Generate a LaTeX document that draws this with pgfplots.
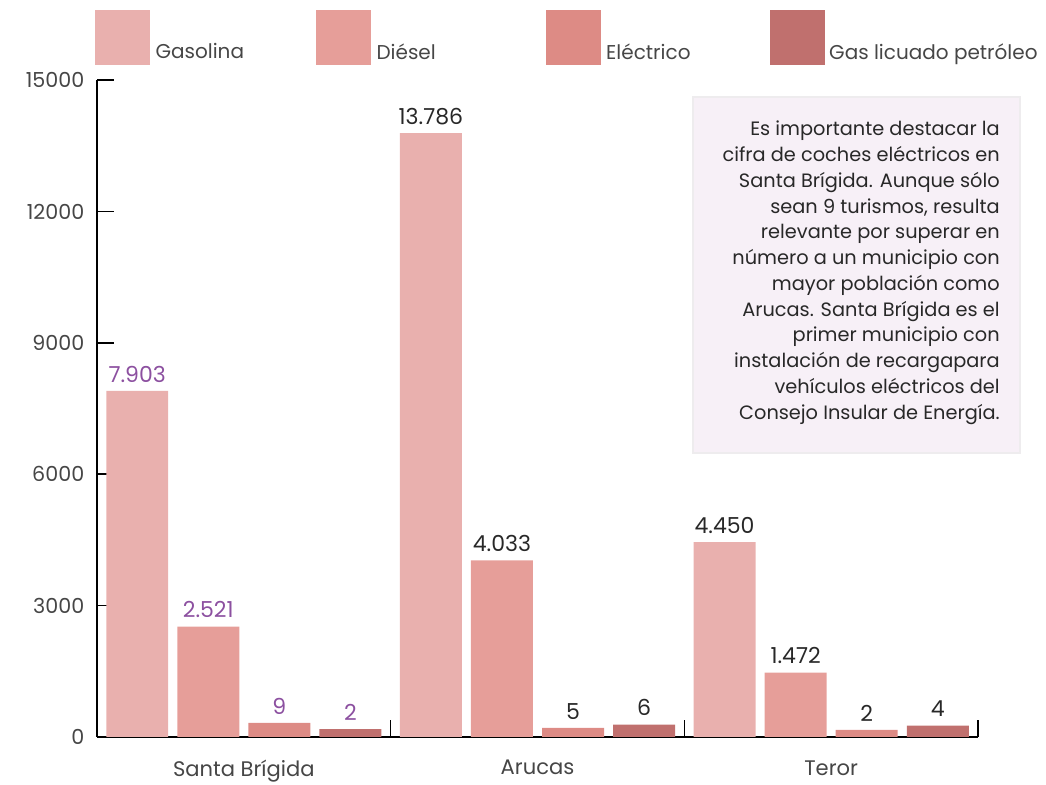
\documentclass[border=0pt]{standalone}
\usepackage{fontspec}
\setmainfont{Poppins}
\usepackage{pgfplots}
\pgfplotsset{compat=1.18}
\definecolor{cGas}{RGB}{233,176,174}
\definecolor{cDie}{RGB}{230,158,153}
\definecolor{cEle}{RGB}{221,139,133}
\definecolor{cGLP}{RGB}{192,112,110}
\definecolor{sbp}{RGB}{140,80,160}
\definecolor{boxbg}{RGB}{247,240,247}
\definecolor{txt}{RGB}{40,40,40}
\definecolor{tick}{RGB}{70,70,70}
\begin{document}
\begin{tikzpicture}[x=0.75pt,y=0.75pt]
\useasboundingbox (0,0) rectangle (1046,785);
\fill[boxbg, draw={rgb,255:red,238;green,236;blue,238}, line width=1.5pt] (693,332) rectangle (1020,688);
\node[anchor=north east, align=right, inner sep=0pt, text=txt,
      font=\fontsize{14.5}{19.3}\selectfont] at (1000,664) {%
Es importante destacar la\\
cifra de coches eléctricos en\\
Santa Brígida. Aunque sólo\\
sean 9 turismos, resulta\\
relevante por superar en\\
número a un municipio con\\
mayor población como\\
Arucas. Santa Brígida es el\\
primer municipio con\\
instalación de recargapara\\
vehículos eléctricos del\\
Consejo Insular de Energía.};
\begin{axis}[
  at={(72.75pt,36pt)}, anchor=south west,
  scale only axis, width=660.75pt, height=492.75pt,
  xmin=-0.5, xmax=2.5, ymin=0, ymax=15000,
  axis lines=left,
  axis line style={-, line width=1.4pt, black},
  ybar, bar width=0.211,
  ytick={0,3000,6000,9000,12000,15000},
  scaled y ticks=false,
  yticklabel style={/pgf/number format/fixed, /pgf/number format/1000 sep={},
    /pgf/number format/assume math mode=true,
    font=\fontsize{15.5}{18}\selectfont, text=tick, xshift=-6pt},
  tick align=inside,
  major tick length=13pt,
  ytick style={line width=1.2pt, black},
  xtick={0.5,1.5,2.5},
  xticklabels={,,},
  xtick style={line width=1.2pt, black},
  extra x ticks={0,1,2},
  extra x tick labels={Santa Brígida,Arucas,Teror},
  extra x tick style={major tick length=0pt,
    xticklabel style={font=\fontsize{15.8}{18}\selectfont, text=tick, yshift=-14pt}},
  nodes near coords,
  point meta=explicit symbolic,
  nodes near coords style={font=\fontsize{16.5}{19}\selectfont, text=txt, anchor=south, yshift=3pt},
  legend columns=4,
  legend style={at={(-0.0023,1.1065)}, anchor=north west, draw=none, fill=none,
    inner sep=0pt, nodes={inner sep=0pt},
    font=\fontsize{15}{18}\selectfont, text=tick,
    /tikz/every even column/.append style={column sep=6pt}},
  legend image code/.code={\fill[#1] (0pt,-9.75pt) rectangle (41.25pt,31.5pt);},
]
\addplot[fill=cGas, draw=none, bar shift=-0.363] coordinates
  {(0,7903) [\textcolor{sbp}{7.903}] (1,13786) [13.786] (2,4450) [4.450]};
\addlegendentry{\makebox[118.5pt][l]{\hspace*{4pt}Gasolina}}
\addplot[fill=cDie, draw=none, bar shift=-0.121] coordinates
  {(0,2521) [\textcolor{sbp}{2.521}] (1,4033) [4.033] (2,1472) [1.472]};
\addlegendentry{\makebox[125pt][l]{\hspace*{4pt}Diésel}}
\addplot[fill=cEle, draw=none, bar shift=0.121] coordinates
  {(0,320) [\textcolor{sbp}{9}] (1,210) [5] (2,160) [2]};
\addlegendentry{\makebox[121pt][l]{\hspace*{4pt}Eléctrico}}
\addplot[fill=cGLP, draw=none, bar shift=0.363] coordinates
  {(0,180) [\textcolor{sbp}{2}] (1,280) [6] (2,260) [4]};
\addlegendentry{\hspace*{3pt}Gas licuado petróleo}
\end{axis}
\end{tikzpicture}
\end{document}
